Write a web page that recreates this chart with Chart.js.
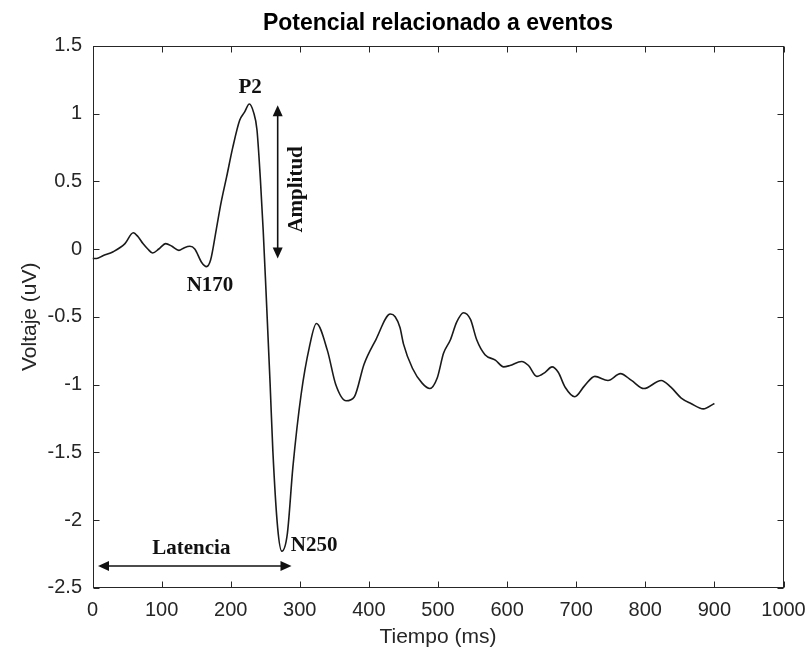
<!DOCTYPE html>
<html>
<head>
<meta charset="utf-8">
<script src="https://cdn.jsdelivr.net/npm/chart.js@4/dist/chart.umd.min.js"></script>
<style>
  html, body { margin: 0; padding: 0; background: #ffffff; }
  #wrap { width: 809px; height: 657px; position: relative; }
</style>
</head>
<body>
<div id="wrap"><canvas id="c" width="809" height="657"></canvas></div>
<script>
// ---- Data ----
const timeMs = [0, 6, 15, 30, 47, 59, 66, 73, 80, 87, 96, 106, 115, 125, 133, 141, 148, 158, 165, 171,
  179, 186, 194, 203, 213, 220, 227, 233, 238, 243, 247, 251, 257, 261, 268, 274, 282, 290, 302, 314,
  324, 340, 352, 367, 379, 393, 410, 431, 438, 445, 450, 463, 477, 488, 499, 508, 518, 527, 537, 547,
  556, 568, 583, 595, 604, 621, 631, 643, 655, 665, 674, 684, 698, 712, 727, 746, 764, 780, 798, 823,
  837, 852, 866, 884, 900];
const voltageUV = [-0.07, -0.07, -0.05, -0.02, 0.04, 0.12, 0.09, 0.04, 0.0, -0.03, 0.0, 0.04, 0.02, -0.01, 0.01, 0.02, 0.0, -0.10, -0.13, -0.08,
  0.14, 0.34, 0.53, 0.75, 0.95, 1.01, 1.07, 1.01, 0.88, 0.51, 0.14, -0.30, -0.99, -1.49, -2.06, -2.23, -2.10, -1.61, -1.07, -0.72,
  -0.55, -0.75, -1.00, -1.12, -1.09, -0.85, -0.67, -0.48, -0.50, -0.58, -0.70, -0.88, -0.99, -1.03, -0.95, -0.77, -0.67, -0.54, -0.47, -0.52,
  -0.67, -0.78, -0.82, -0.87, -0.86, -0.83, -0.86, -0.94, -0.91, -0.87, -0.91, -1.02, -1.09, -1.01, -0.94, -0.97, -0.92, -0.97, -1.03, -0.97,
  -1.02, -1.10, -1.14, -1.18, -1.14];

const xTickLabels = ['0', '100', '200', '300', '400', '500', '600', '700', '800', '900', '1000'];
const yTickLabels = ['-2.5', '-2', '-1.5', '-1', '-0.5', '0', '0.5', '1', '1.5'];

const chartTitle = 'Potencial relacionado a eventos';
const xAxisTitle = 'Tiempo (ms)';
const yAxisTitle = 'Voltaje (uV)';

// Annotation texts anchored at data coordinates [ms, uV]
const peakLabels = ['P2', 'N170', 'N250', 'Latencia'];
const peakLabelAt = [[228, 1.19], [170, -0.27], [287, -2.19], [143, -2.21]];
const peakLabelAlign = ['center', 'center', 'left', 'center'];
const amplitudeLabel = 'Amplitud';
const amplitudeLabelAt = [296, 0.44];
const amplitudeArrow = [268, 1.06, 268, -0.07];   // x, yTop, x, yBottom
const latencyArrow = [8, -2.34, 288, -2.34];      // xLeft, y, xRight, y

const points = timeMs.map((t, i) => ({ x: t, y: voltageUV[i] }));
const xVals = xTickLabels.map(Number);
const yVals = yTickLabels.map(Number);

const axisColor = '#262626';
const sansFont = '"Liberation Sans", Arial, sans-serif';

function arrowHead(ctx, x, y, dx, dy) {
  const len = 11, half = 5;
  const nx = -dy, ny = dx;
  ctx.beginPath();
  ctx.moveTo(x, y);
  ctx.lineTo(x - dx * len + nx * half, y - dy * len + ny * half);
  ctx.lineTo(x - dx * len - nx * half, y - dy * len - ny * half);
  ctx.closePath();
  ctx.fill();
}

function labelFor(list, vals, v) {
  const i = vals.findIndex(u => Math.abs(u - v) < 1e-6);
  return i >= 0 ? list[i] : '';
}

const boxPlugin = {
  id: 'matlabBox',
  afterDatasetsDraw(chart) {
    const { ctx, chartArea: a, scales: { x, y } } = chart;
    ctx.save();
    ctx.strokeStyle = axisColor;
    ctx.lineWidth = 1;
    const L = Math.round(a.left) + 0.5, R = Math.round(a.right) - 0.5;
    const T = Math.round(a.top) + 0.5, B = Math.round(a.bottom) - 0.5;
    ctx.strokeRect(L, T, R - L, B - T);
    const tl = 6;
    ctx.beginPath();
    x.ticks.forEach(t => {
      const px = Math.round(x.getPixelForValue(t.value)) + 0.5;
      ctx.moveTo(px, B); ctx.lineTo(px, B - tl);
      ctx.moveTo(px, T); ctx.lineTo(px, T + tl);
    });
    y.ticks.forEach(t => {
      const py = Math.round(y.getPixelForValue(t.value)) + 0.5;
      ctx.moveTo(L, py); ctx.lineTo(L + tl, py);
      ctx.moveTo(R, py); ctx.lineTo(R - tl, py);
    });
    ctx.stroke();

    // annotations
    ctx.fillStyle = '#111111';
    ctx.strokeStyle = '#111111';
    ctx.font = 'bold 21px "Liberation Serif", "Times New Roman", serif';
    ctx.textBaseline = 'middle';
    peakLabels.forEach((txt, i) => {
      ctx.textAlign = peakLabelAlign[i];
      ctx.fillText(txt, x.getPixelForValue(peakLabelAt[i][0]), y.getPixelForValue(peakLabelAt[i][1]));
    });
    ctx.save();
    ctx.translate(x.getPixelForValue(amplitudeLabelAt[0]), y.getPixelForValue(amplitudeLabelAt[1]));
    ctx.rotate(-Math.PI / 2);
    ctx.textAlign = 'center';
    ctx.fillText(amplitudeLabel, 0, 0);
    ctx.restore();

    ctx.lineWidth = 1.6;
    const ax = x.getPixelForValue(amplitudeArrow[0]);
    const ay1 = y.getPixelForValue(amplitudeArrow[1]);
    const ay2 = y.getPixelForValue(amplitudeArrow[3]);
    ctx.beginPath(); ctx.moveTo(ax, ay1 + 8); ctx.lineTo(ax, ay2 - 8); ctx.stroke();
    arrowHead(ctx, ax, ay1, 0, -1);
    arrowHead(ctx, ax, ay2, 0, 1);
    const lx1 = x.getPixelForValue(latencyArrow[0]);
    const lx2 = x.getPixelForValue(latencyArrow[2]);
    const ly = y.getPixelForValue(latencyArrow[1]);
    ctx.beginPath(); ctx.moveTo(lx1 + 8, ly); ctx.lineTo(lx2 - 8, ly); ctx.stroke();
    arrowHead(ctx, lx1, ly, -1, 0);
    arrowHead(ctx, lx2, ly, 1, 0);
    ctx.restore();
  }
};

new Chart(document.getElementById('c'), {
  type: 'line',
  data: {
    datasets: [{
      data: points,
      borderColor: '#1a1a1a',
      borderWidth: 1.6,
      pointRadius: 0,
      fill: false,
      cubicInterpolationMode: 'monotone'
    }]
  },
  options: {
    responsive: false,
    animation: false,
    events: [],
    layout: { padding: { left: 0, right: 25.5, top: 0, bottom: 0 } },
    plugins: {
      legend: { display: false },
      tooltip: { enabled: false },
      title: {
        display: true,
        text: chartTitle,
        fullSize: false,
        color: '#000000',
        font: { family: sansFont, size: 23, weight: 'bold', lineHeight: 1.2 },
        padding: { top: 9.5, bottom: 8.65 }
      }
    },
    scales: {
      x: {
        type: 'linear',
        min: xVals[0], max: xVals[xVals.length - 1],
        afterFit: s => { s.height = 69.25; s.paddingLeft = 0; s.paddingRight = 0; },
        afterBuildTicks: s => { s.ticks = xVals.map(v => ({ value: v })); },
        grid: { display: false, drawTicks: false },
        border: { display: false },
        ticks: {
          padding: 11,
          color: axisColor, maxRotation: 0, autoSkip: false,
          callback: v => labelFor(xTickLabels, xVals, v),
          font: { family: sansFont, size: 20, lineHeight: 1.2 }
        },
        title: {
          display: true, text: xAxisTitle, color: axisColor,
          font: { family: sansFont, size: 21, lineHeight: 1.2 },
          padding: { top: 0, bottom: 7.4 }
        }
      },
      y: {
        type: 'linear',
        min: yVals[0], max: yVals[yVals.length - 1],
        afterFit: s => { s.width = 92.5; s.paddingTop = 0; s.paddingBottom = 0; },
        afterBuildTicks: s => { s.ticks = yVals.map(v => ({ value: v })); },
        grid: { display: false, drawTicks: false },
        border: { display: false },
        ticks: {
          padding: 10.5,
          color: axisColor, autoSkip: false,
          callback: v => labelFor(yTickLabels, yVals, v),
          font: { family: sansFont, size: 20, lineHeight: 1.2 }
        },
        title: {
          display: true, text: yAxisTitle, color: axisColor,
          font: { family: sansFont, size: 21, lineHeight: 1.2 },
          padding: { top: 17.4, bottom: 0 }
        }
      }
    }
  },
  plugins: [boxPlugin]
});
</script>
</body>
</html>
